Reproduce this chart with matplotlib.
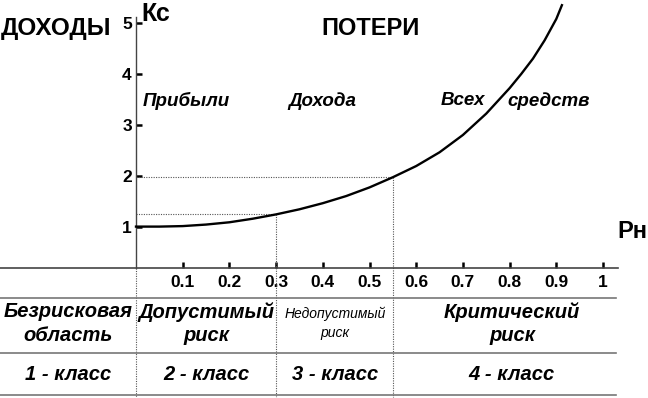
import matplotlib
matplotlib.use("Agg")
import matplotlib.pyplot as plt

plt.rcParams['font.family'] = ['Liberation Sans', 'DejaVu Sans']

# curve Kc(Pн)
pn = [0, 0.05, 0.1, 0.15, 0.2, 0.25, 0.3, 0.35, 0.4, 0.45, 0.5, 0.55,
      0.6, 0.65, 0.7, 0.75, 0.8, 0.825, 0.85, 0.875, 0.9, 0.912]
kc = [1.0, 1.0, 1.01, 1.04, 1.085, 1.155, 1.24, 1.34, 1.46, 1.6, 1.77, 1.97,
      2.19, 2.46, 2.8, 3.22, 3.72, 4.0, 4.3, 4.66, 5.08, 5.35]

xticks = [0.1, 0.2, 0.3, 0.4, 0.5, 0.6, 0.7, 0.8, 0.9, 1]
xticklabels = ['0.1', '0.2', '0.3', '0.4', '0.5', '0.6', '0.7', '0.8', '0.9', '1']
yticks = [1, 2, 3, 4, 5]

# class borders (Pн) and markers on the curve
borders = [0, 0.3, 0.55]
marks_x = [0.3, 0.55]
marks_y = [1.24, 1.97]

zone_labels = ['Прибыли', 'Дохода', 'Всех', 'средств']
zone_x = [0.107, 0.398, 0.700, 0.884]

table_top = ['Безрисковая\nобласть', 'Допустимый\nриск', 'Недопустимый\nриск', 'Критический\nриск']
table_bot = ['1 - класс', '2 - класс', '3 - класс', '4 - класс']
table_x = [-0.146, 0.150, 0.426, 0.805]

fig = plt.figure(figsize=(6.48, 3.98), dpi=100)
ax = fig.add_axes([0, 0.3259, 618 / 648, 0.9573 - 0.3259])
ax.set_xlim(-0.2912, 1.0321)
ax.set_ylim(0.181, 5.118)

ax.spines['top'].set_visible(False)
ax.spines['right'].set_visible(False)
ax.spines['left'].set_position(('data', 0))
ax.spines['left'].set_color('#444444')
ax.spines['bottom'].set_color('#444444')
ax.spines['left'].set_linewidth(1.0)
ax.spines['bottom'].set_linewidth(1.2)

ax.set_xticks(xticks)
ax.set_xticklabels(xticklabels)
ax.set_yticks(yticks)
ax.tick_params(direction='in', length=4, width=1.8, colors='black', labelsize=12.5)
ax.tick_params(axis='x', pad=5)
ax.tick_params(axis='y', pad=3)
for lab in ax.get_xticklabels() + ax.get_yticklabels():
    lab.set_fontweight('bold')

# curve
ax.plot(pn, kc, color='black', lw=1.7, clip_on=False, zorder=5, solid_joinstyle='round')

# dotted guides
ybot = -2.37
for bx in borders:
    ytop = 0.181 if bx == 0 else marks_y[marks_x.index(bx)]
    ax.plot([bx, bx], [ytop, ybot], ls=(0, (1, 1.2)), color='#555555', lw=0.8, clip_on=False)
for mx, my in zip(marks_x, marks_y):
    ax.plot([0, mx], [my, my], ls=(0, (1, 1.2)), color='#555555', lw=0.8)

# table rules
for ty in [-0.403, -1.483, -2.308]:
    ax.plot([-0.2912, 1.028], [ty, ty], color='#777777', lw=1.2, clip_on=False)

# titles
ax.text(-0.171, 4.90, 'ДОХОДЫ', fontsize=17.5, fontweight='bold', ha='center', va='center')
ax.text(0.503, 4.90, 'ПОТЕРИ', fontsize=17, fontweight='bold', ha='center', va='center')
ax.text(0.012, 5.18, 'Кс', fontsize=18, fontweight='bold', ha='left', va='center', clip_on=False)
ax.text(1.062, 0.894, 'Рн', fontsize=17, fontweight='bold', ha='center', va='center', clip_on=False)

for lab, zx in zip(zone_labels, zone_x):
    ax.text(zx, 3.47, lab, fontsize=13.5, fontweight='bold', style='italic', ha='center', va='center')

for i, (t1, t2, tx) in enumerate(zip(table_top, table_bot, table_x)):
    if i == 2:
        ax.text(tx, -0.904, t1, fontsize=10, style='italic', ha='center', va='center',
                linespacing=1.5, clip_on=False)
    else:
        ax.text(tx, -0.904, t1, fontsize=14.5, fontweight='bold', style='italic', ha='center',
                va='center', linespacing=1.3, clip_on=False)
    ax.text(tx, -1.915, t2, fontsize=14.5, fontweight='bold', style='italic', ha='center',
            va='center', clip_on=False)

fig.savefig('out.png', dpi=100)
